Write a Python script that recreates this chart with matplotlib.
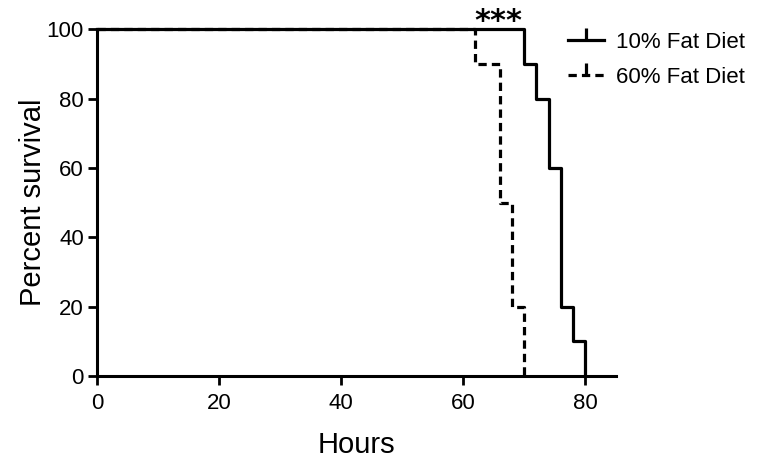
import matplotlib
matplotlib.use("Agg")
import matplotlib.pyplot as plt
from matplotlib.lines import Line2D

plt.rcParams['font.family'] = ['Liberation Sans', 'DejaVu Sans']

# Kaplan-Meier steps (hours, percent survival)
low_fat_hours = [0, 70, 72, 74, 76, 78, 80]
low_fat_surv = [100, 90, 80, 60, 20, 10, 0]
high_fat_hours = [0, 62, 66, 68, 70]
high_fat_surv = [100, 90, 50, 20, 0]
labels = ['10% Fat Diet', '60% Fat Diet']
x_ticks = [0, 20, 40, 60, 80]
y_ticks = [0, 20, 40, 60, 80, 100]

fig = plt.figure(figsize=(7.64, 4.73), dpi=100)
ax = fig.add_axes([0.127, 0.205, 0.679, 0.733])

dash = (0, (2.6, 1.6))
ax.step(high_fat_hours, high_fat_surv, where='post', color='black', lw=2.3,
        linestyle=dash, clip_on=False)
ax.step(low_fat_hours, low_fat_surv, where='post', color='black', lw=2.3,
        clip_on=False)

ax.set_xlim(0, 85)
ax.set_ylim(0, 100)
ax.set_xticks(x_ticks)
ax.set_yticks(y_ticks)
ax.tick_params(labelsize=16, width=2, length=6.5, direction='out')
ax.tick_params(axis='x', pad=6)
ax.tick_params(axis='y', pad=3)
for s in ['top', 'right']:
    ax.spines[s].set_visible(False)
for s in ['left', 'bottom']:
    ax.spines[s].set_linewidth(2.2)

ax.set_xlabel('Hours', fontsize=21, labelpad=12)
ax.set_ylabel('Percent survival', fontsize=21, labelpad=0)

ax.text(65.8, 102.2, '***', ha='center', va='center', fontsize=22,
        fontweight='bold', family='DejaVu Sans')

handles = [
    Line2D([], [], color='black', lw=2.3, marker=2, markersize=9,
           markeredgewidth=2.3),
    Line2D([], [], color='black', lw=2.3, linestyle=dash, marker=2,
           markersize=9, markeredgewidth=2.3),
]
fig.legend(handles, labels, loc='upper left', bbox_to_anchor=(0.7435, 0.932),
           frameon=False, fontsize=16, handlelength=1.62, handletextpad=0.54,
           labelspacing=0.62, borderaxespad=0, borderpad=0)

fig.savefig('out.png', dpi=100)
